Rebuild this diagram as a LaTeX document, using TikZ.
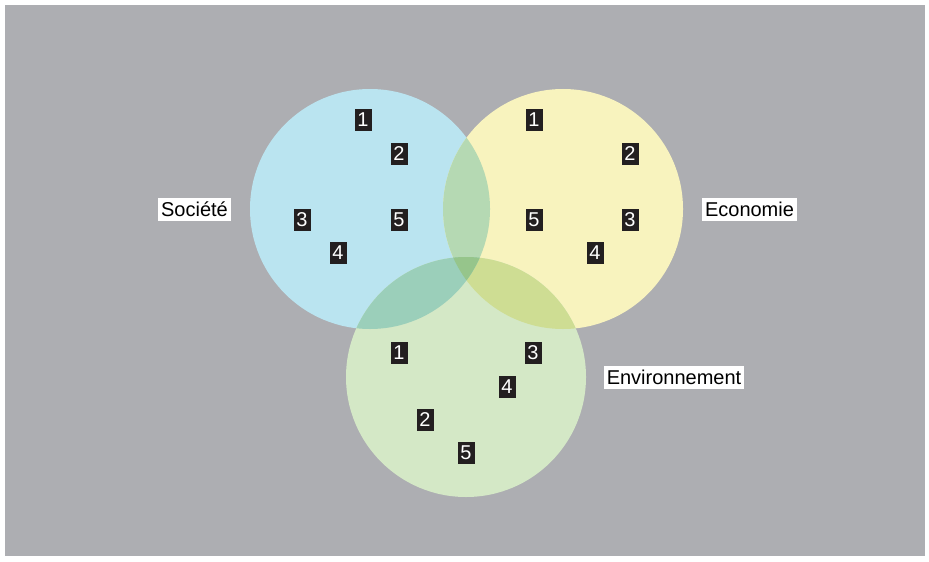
\documentclass[tikz,border=0pt]{standalone}
\usepackage{fontspec}
\setmainfont{Liberation Sans}
\definecolor{bg}{RGB}{173,174,178}
\definecolor{socc}{RGB}{186,228,240}
\definecolor{ecoc}{RGB}{248,243,190}
\definecolor{envc}{RGB}{212,232,198}
\definecolor{soceco}{RGB}{181,217,179}
\definecolor{socenv}{RGB}{155,207,186}
\definecolor{ecoenv}{RGB}{206,221,147}
\definecolor{allc}{RGB}{150,197,139}
\definecolor{boxc}{RGB}{35,31,32}
\begin{document}
\begin{tikzpicture}[x=0.5pt, y=-0.5pt,
  num/.style = {fill=boxc, text=white, font=\fontsize{10}{10}\selectfont, minimum width=8.5pt, minimum height=11pt, inner sep=0pt},
  lbl/.style = {fill=white, font=\fontsize{10}{10}\selectfont, inner xsep=1.5pt, inner ysep=0pt, minimum height=11.5pt}]
\useasboundingbox (0,0) rectangle (929,561);
\fill[bg] (5,5) rectangle (925,556);
\coordinate (soc) at (370,209);
\coordinate (eco) at (563,209);
\coordinate (env) at (466,377);
\fill[socc] (soc) circle (60pt);
\fill[ecoc] (eco) circle (60pt);
\fill[envc] (env) circle (60pt);
\begin{scope}
\clip (eco) circle (60pt);
\fill[ecoenv] (env) circle (60pt);
\end{scope}
\begin{scope}
\clip (soc) circle (60pt);
\fill[soceco] (eco) circle (60pt);
\fill[socenv] (env) circle (60pt);
\clip (eco) circle (60pt);
\fill[allc] (env) circle (60pt);
\end{scope}
\node[lbl] (soclbl) at (194.5,209.5) {Société};
\node[lbl] (ecolbl) at (749.5,209.5) {Economie};
\node[lbl] (envlbl) at (674,377.5) {Environnement};
\node[num] (s1) at (363,120) {1};
\node[num] (s2) at (399,154) {2};
\node[num] (s3) at (302,220) {3};
\node[num] (s4) at (338,253) {4};
\node[num] (s5) at (399,220) {5};
\node[num] (e1) at (534,120) {1};
\node[num] (e2) at (630,154) {2};
\node[num] (e3) at (630,220) {3};
\node[num] (e4) at (595,253) {4};
\node[num] (e5) at (534,220) {5};
\node[num] (v1) at (399,353) {1};
\node[num] (v2) at (425,420) {2};
\node[num] (v3) at (533,353) {3};
\node[num] (v4) at (507,387) {4};
\node[num] (v5) at (466,453) {5};
\end{tikzpicture}
\end{document}
